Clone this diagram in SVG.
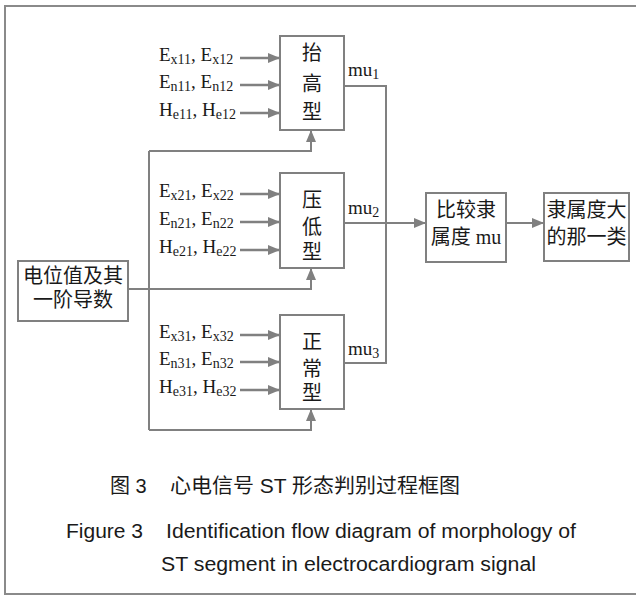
<svg xmlns="http://www.w3.org/2000/svg" width="636" height="596" viewBox="0 0 636 596">
  <style>
    .frame { fill: none; stroke: #8a8a8a; stroke-width: 2; }
    .box { fill: #ffffff; stroke: #808080; stroke-width: 2; }
    .wire { fill: none; stroke: #808080; stroke-width: 2; }
    .arr { fill: none; stroke: #808080; stroke-width: 2.5; }
    .lab { font-family: "Liberation Serif", "Noto Sans CJK SC", serif; font-size: 19px; fill: #1a1a1a; }
    .sub { font-size: 14px; }
    .cjk { font-family: "Liberation Serif", "Noto Sans CJK SC", serif; font-size: 20px; fill: #1a1a1a; text-anchor: middle; }
    .cap { font-family: "Liberation Sans", "Noto Sans CJK SC", sans-serif; font-size: 20px; fill: #1a1a1a; }
  </style>
  <defs>
    <marker id="ah" markerUnits="userSpaceOnUse" markerWidth="12" markerHeight="10" refX="12" refY="5" orient="auto">
      <path d="M0,0 L12,5 L0,10 z" fill="#808080"/>
    </marker>
  </defs>

  <rect x="0" y="0" width="636" height="596" fill="#ffffff"/>
  <!-- outer frame, open to the right -->
  <path class="frame" d="M640,6 H5 V594 H640"/>

  <!-- connectors -->
  <g id="connectors">
    <!-- feature inputs, type 1 -->
    <line class="arr" x1="240" y1="58" x2="280" y2="58" marker-end="url(#ah)"/>
    <line class="arr" x1="240" y1="85" x2="280" y2="85" marker-end="url(#ah)"/>
    <line class="arr" x1="240" y1="113" x2="280" y2="113" marker-end="url(#ah)"/>
    <!-- feature inputs, type 2 -->
    <line class="arr" x1="240" y1="194" x2="280" y2="194" marker-end="url(#ah)"/>
    <line class="arr" x1="240" y1="222" x2="280" y2="222" marker-end="url(#ah)"/>
    <line class="arr" x1="240" y1="250" x2="280" y2="250" marker-end="url(#ah)"/>
    <!-- feature inputs, type 3 -->
    <line class="arr" x1="240" y1="335" x2="280" y2="335" marker-end="url(#ah)"/>
    <line class="arr" x1="240" y1="362" x2="280" y2="362" marker-end="url(#ah)"/>
    <line class="arr" x1="240" y1="390" x2="280" y2="390" marker-end="url(#ah)"/>

    <!-- potential values distributed to every classifier -->
    <path class="wire" d="M149,430 V151"/>
    <path class="wire" d="M149,151 H311 V130" marker-end="url(#ah)"/>
    <path class="wire" d="M128,289 H311 V268" marker-end="url(#ah)"/>
    <path class="wire" d="M149,430 H311 V409" marker-end="url(#ah)"/>

    <!-- membership outputs -->
    <path class="wire" d="M344,86 H386 V363 H344"/>
    <path class="wire" d="M344,223 H426" marker-end="url(#ah)"/>
    <path class="wire" d="M506,223 H544" marker-end="url(#ah)"/>
  </g>

  <!-- input labels -->
  <g id="labels-1">
    <text class="lab" x="159" y="60.5">E<tspan class="sub" dy="3">x11</tspan><tspan dy="-3">, E</tspan><tspan class="sub" dy="3">x12</tspan></text>
    <text class="lab" x="159" y="87.5">E<tspan class="sub" dy="3">n11</tspan><tspan dy="-3">, E</tspan><tspan class="sub" dy="3">n12</tspan></text>
    <text class="lab" x="159" y="115.5">H<tspan class="sub" dy="3">e11</tspan><tspan dy="-3">, H</tspan><tspan class="sub" dy="3">e12</tspan></text>
  </g>
  <g id="labels-2">
    <text class="lab" x="159" y="196.5">E<tspan class="sub" dy="3">x21</tspan><tspan dy="-3">, E</tspan><tspan class="sub" dy="3">x22</tspan></text>
    <text class="lab" x="159" y="224.5">E<tspan class="sub" dy="3">n21</tspan><tspan dy="-3">, E</tspan><tspan class="sub" dy="3">n22</tspan></text>
    <text class="lab" x="159" y="252.5">H<tspan class="sub" dy="3">e21</tspan><tspan dy="-3">, H</tspan><tspan class="sub" dy="3">e22</tspan></text>
  </g>
  <g id="labels-3">
    <text class="lab" x="159" y="337.5">E<tspan class="sub" dy="3">x31</tspan><tspan dy="-3">, E</tspan><tspan class="sub" dy="3">x32</tspan></text>
    <text class="lab" x="159" y="364.5">E<tspan class="sub" dy="3">n31</tspan><tspan dy="-3">, E</tspan><tspan class="sub" dy="3">n32</tspan></text>
    <text class="lab" x="159" y="392.5">H<tspan class="sub" dy="3">e31</tspan><tspan dy="-3">, H</tspan><tspan class="sub" dy="3">e32</tspan></text>
  </g>

  <!-- classifier: elevated -->
  <g id="elevated">
    <rect class="box" x="280" y="36" width="64" height="94"/>
    <text class="cjk" x="312" y="60">抬</text>
    <text class="cjk" x="312" y="91">高</text>
    <text class="cjk" x="312" y="119">型</text>
    <text class="lab" x="348" y="76">mu<tspan class="sub" dy="3">1</tspan></text>
  </g>

  <!-- classifier: depressed -->
  <g id="depressed">
    <rect class="box" x="280" y="173" width="64" height="95"/>
    <text class="cjk" x="312" y="207">压</text>
    <text class="cjk" x="312" y="234">低</text>
    <text class="cjk" x="312" y="259">型</text>
    <text class="lab" x="348" y="214">mu<tspan class="sub" dy="3">2</tspan></text>
  </g>

  <!-- classifier: normal -->
  <g id="normal">
    <rect class="box" x="280" y="315" width="64" height="94"/>
    <text class="cjk" x="312" y="349">正</text>
    <text class="cjk" x="312" y="376">常</text>
    <text class="cjk" x="312" y="400">型</text>
    <text class="lab" x="348" y="355">mu<tspan class="sub" dy="3">3</tspan></text>
  </g>

  <!-- input signal -->
  <g id="input">
    <rect class="box" x="18" y="261" width="110" height="60"/>
    <text class="cjk" x="73" y="283">电位值及其</text>
    <text class="cjk" x="73" y="307">一阶导数</text>
  </g>

  <!-- membership comparison -->
  <g id="compare">
    <rect class="box" x="426" y="193" width="80" height="69"/>
    <text class="cjk" x="466" y="217">比较隶</text>
    <text class="cjk" x="466" y="244">属度 mu</text>
  </g>

  <!-- result -->
  <g id="result">
    <rect class="box" x="544" y="193" width="85" height="68"/>
    <text class="cjk" x="586.5" y="217">隶属度大</text>
    <text class="cjk" x="586.5" y="244">的那一类</text>
  </g>

  <!-- captions -->
  <g id="caption">
    <text class="cap" x="110" y="493" font-size="19">图 3</text>
    <text class="cap" x="170" y="493" textLength="290" lengthAdjust="spacingAndGlyphs">心电信号 ST 形态判别过程框图</text>
    <text class="cap" x="66" y="538" textLength="77" lengthAdjust="spacingAndGlyphs">Figure 3</text>
    <text class="cap" x="166" y="538" textLength="410" lengthAdjust="spacingAndGlyphs">Identification flow diagram of morphology of</text>
    <text class="cap" x="161" y="571" textLength="375" lengthAdjust="spacingAndGlyphs">ST segment in electrocardiogram signal</text>
  </g>
</svg>
